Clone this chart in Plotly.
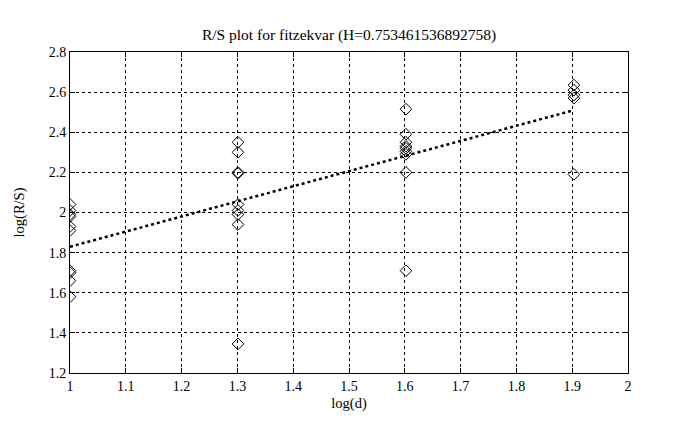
import plotly.graph_objects as go

x_d1 = [1.0] * 10
y_d1 = [2.04, 2.01, 1.99, 1.98, 1.93, 1.91, 1.71, 1.70, 1.66, 1.58]
x_d2 = [1.30103] * 8
y_d2 = [2.35, 2.30, 2.20, 2.195, 2.04, 2.01, 1.99, 1.94]
y_d2_low = [1.345]
x_d3 = [1.60206] * 9
y_d3 = [2.515, 2.39, 2.35, 2.33, 2.32, 2.305, 2.29, 2.20, 1.71]
x_d4 = [1.90309] * 5
y_d4 = [2.635, 2.61, 2.585, 2.57, 2.19]

H = 0.753461536892758
intercept = 1.076
fit_x = [1.0, 1.90309]

xs = x_d1 + x_d2 + [1.30103] + x_d3 + x_d4
ys = y_d1 + y_d2 + y_d2_low + y_d3 + y_d4
fit_y = [H * v + intercept for v in fit_x]

tick_font = dict(family="Liberation Serif", size=14, color="black")
label_font = dict(family="Liberation Serif", size=14.5, color="black")

fig = go.Figure()
fig.add_trace(go.Scatter(x=xs, y=ys, mode="markers",
                         marker=dict(symbol="diamond-open", size=9,
                                     color="black", line=dict(width=1)),
                         showlegend=False))
fig.add_trace(go.Scatter(x=fit_x, y=fit_y, mode="lines",
                         line=dict(color="black", width=2.5, dash="dot"),
                         showlegend=False))

axis_common = dict(showline=True, linecolor="black", linewidth=1, mirror="allticks",
                   ticks="inside", ticklen=5, tickcolor="black",
                   showgrid=True, gridcolor="black", gridwidth=1, griddash="dot",
                   zeroline=False, tickfont=tick_font)

fig.update_layout(
    width=678, height=430,
    margin=dict(l=62, r=58, t=44, b=65),
    paper_bgcolor="white", plot_bgcolor="white",
    font=tick_font,
    title=dict(text="R/S plot for fitzekvar (H=0.753461536892758)",
               x=(62 + 620) / 2 / 678, xanchor="center", y=1 - 27 / 430, yanchor="middle",
               font=dict(family="Liberation Serif", size=15.5, color="black")),
    xaxis=dict(range=[1, 2], dtick=0.1, tick0=1,
               title=dict(text="log(d)", standoff=5, font=label_font), **axis_common),
    yaxis=dict(range=[1.2, 2.8], dtick=0.2, tick0=1.2,
               title=dict(text="log(R/S)", standoff=20, font=label_font), **axis_common),
)

fig.write_html("out.html")
